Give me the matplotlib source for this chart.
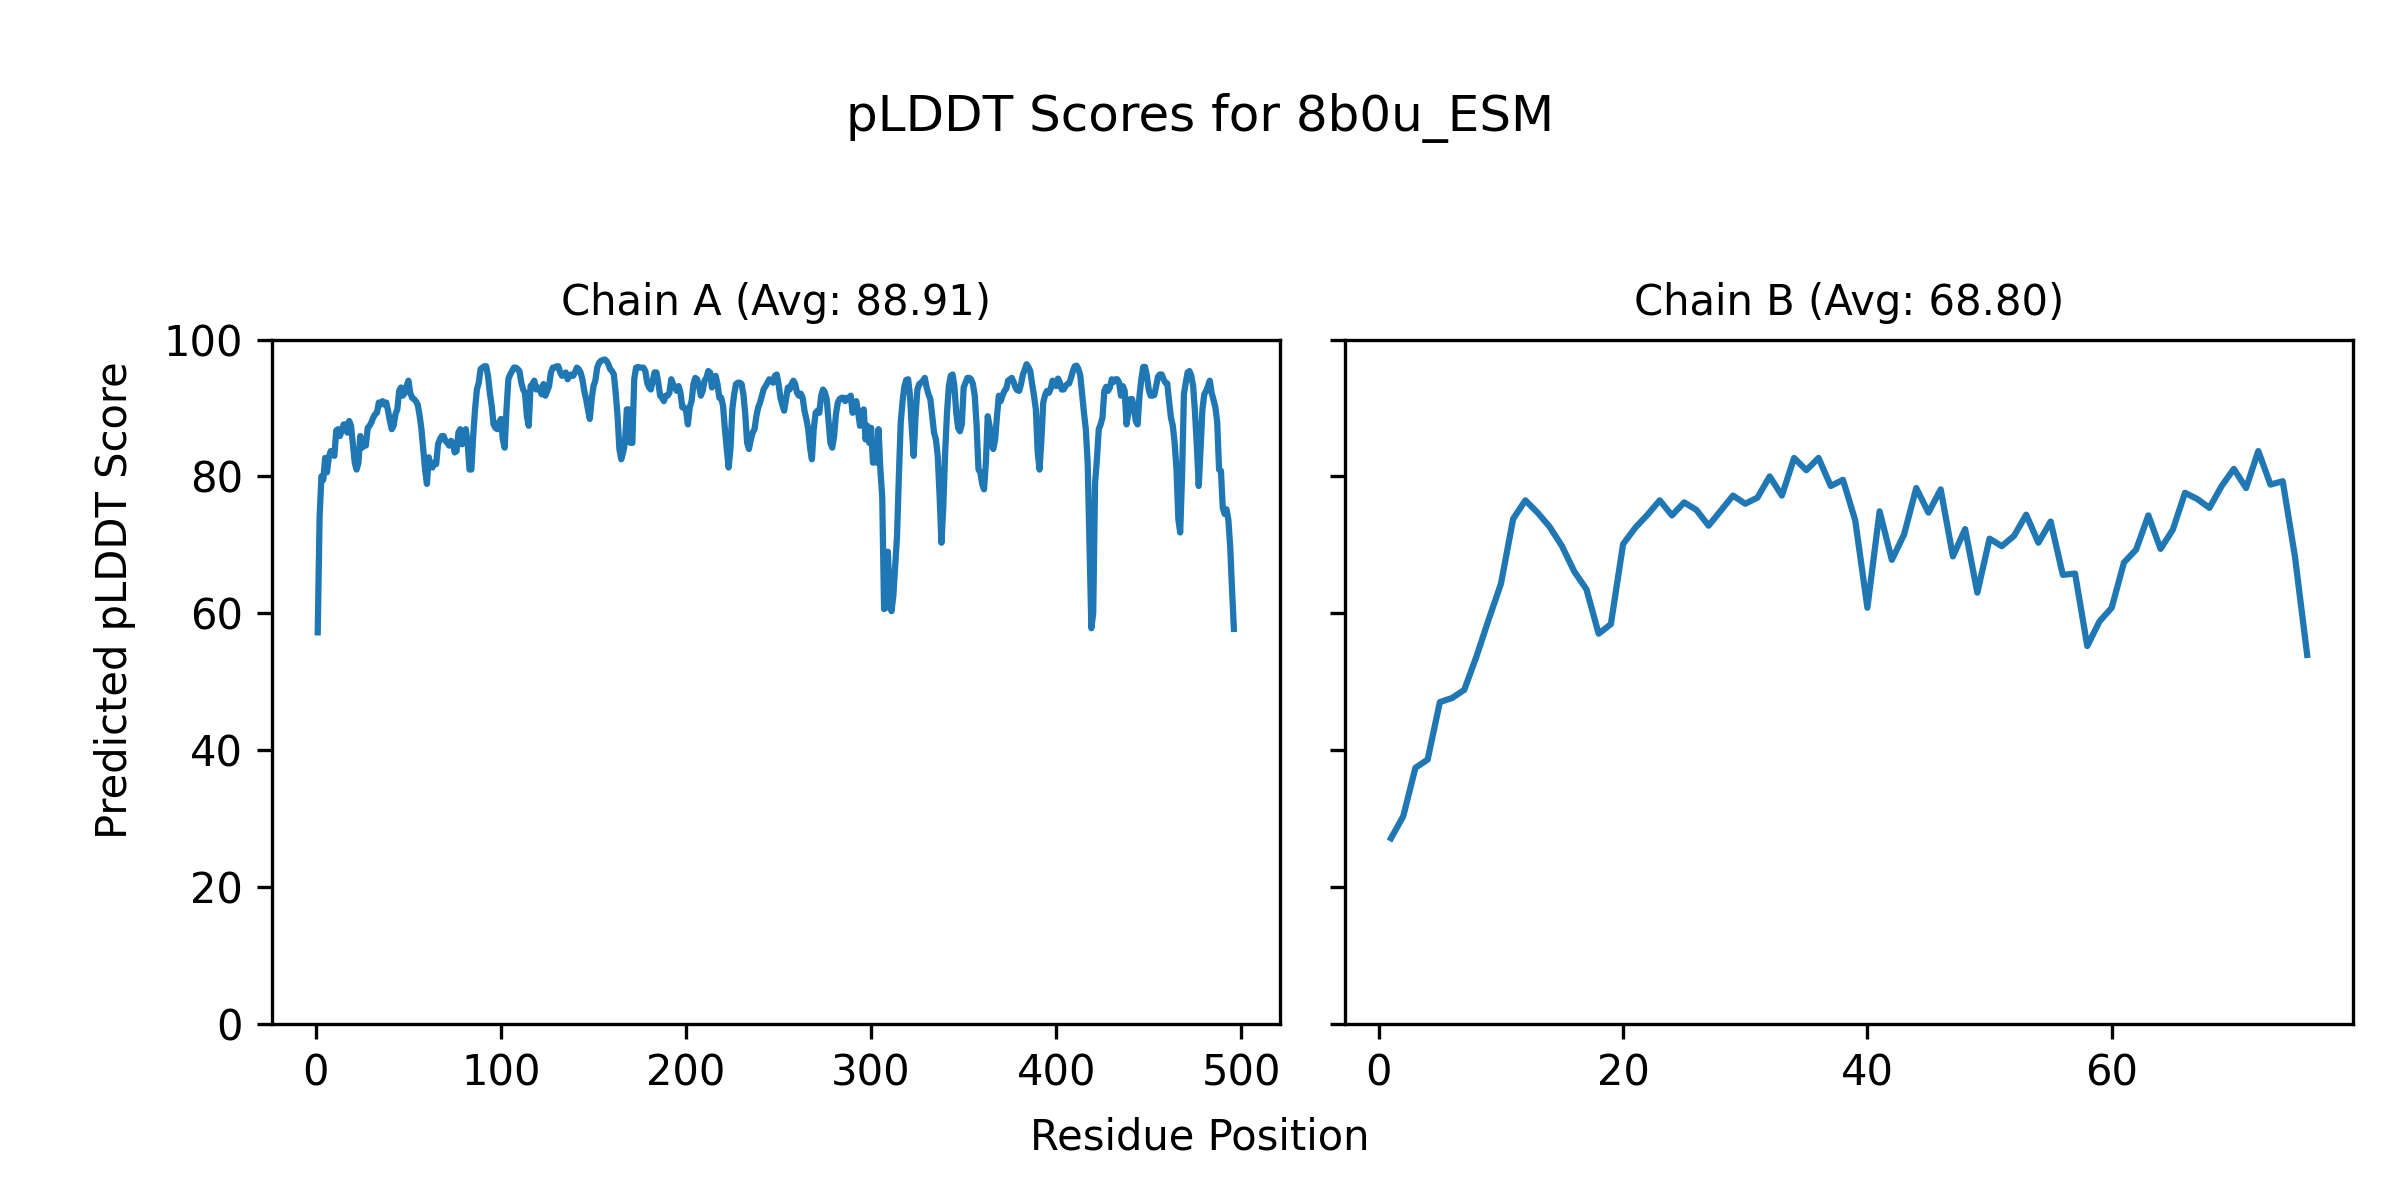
import matplotlib
matplotlib.use("Agg")
import matplotlib.pyplot as plt
import numpy as np

title = "pLDDT Scores for 8b0u_ESM"
chain_titles = ["Chain A (Avg: 88.91)", "Chain B (Avg: 68.80)"]

chain_a_scores = [
    57.2, 74.0, 80.0, 79.5, 82.7, 80.6, 82.8, 83.7, 83.2, 83.0,
    86.7, 86.9, 85.9, 86.7, 87.6, 87.6, 86.4, 88.1, 87.4, 84.7,
    82.0, 81.0, 82.0, 85.9, 84.2, 84.7, 84.5, 87.1, 87.4, 87.9,
    88.6, 89.1, 89.3, 90.8, 90.5, 91.0, 90.5, 90.8, 89.6, 88.1,
    86.9, 87.4, 89.1, 89.8, 92.5, 93.0, 91.8, 92.2, 93.2, 94.0,
    92.2, 91.5, 91.3, 91.0, 90.5, 89.0, 87.0, 84.0, 81.0, 78.9,
    82.8, 81.5, 81.3, 82.0, 81.8, 84.7, 85.4, 85.9, 85.9, 85.2,
    84.9, 84.5, 85.2, 84.9, 83.5, 83.7, 86.4, 86.9, 84.7, 86.6,
    86.9, 84.9, 81.0, 81.0, 85.9, 89.8, 92.7, 93.7, 95.7, 95.9,
    96.1, 96.1, 94.7, 92.2, 90.3, 87.6, 87.1, 86.9, 87.9, 88.4,
    85.4, 84.2, 89.8, 94.2, 94.9, 95.4, 95.9, 95.9, 95.7, 95.4,
    93.7, 92.7, 92.2, 88.8, 87.4, 93.2, 93.5, 94.0, 92.7, 93.0,
    92.7, 92.0, 93.5, 91.8, 92.5, 93.2, 95.2, 95.9, 95.9, 96.1,
    96.1, 95.2, 94.7, 94.9, 95.2, 94.2, 94.7, 94.9, 94.7, 95.2,
    95.9, 95.7, 95.2, 94.2, 92.5, 91.3, 89.8, 88.4, 91.3, 93.2,
    94.0, 95.9, 96.6, 96.9, 97.0, 97.1, 96.9, 96.4, 95.7, 95.4,
    94.9, 92.2, 88.8, 84.0, 82.5, 83.5, 84.9, 89.8, 89.8, 84.9,
    84.9, 94.2, 95.9, 96.0, 95.9, 95.9, 95.9, 95.4, 93.7, 93.0,
    92.7, 94.0, 95.2, 95.2, 93.7, 91.8, 91.5, 91.0, 91.8, 91.8,
    92.2, 94.2, 93.5, 93.0, 92.5, 93.2, 92.2, 90.1, 90.1, 89.6,
    87.6, 90.1, 91.0, 93.5, 94.4, 94.2, 93.2, 91.8, 92.5, 94.0,
    94.4, 95.4, 95.2, 93.0, 94.4, 94.7, 93.5, 91.5, 91.5, 90.3,
    86.9, 84.0, 81.3, 84.0, 89.8, 92.0, 93.5, 93.7, 93.7, 93.5,
    92.0, 89.1, 84.9, 84.0, 85.4, 86.4, 86.9, 88.8, 90.1, 90.8,
    91.8, 92.8, 93.2, 93.7, 94.2, 94.0, 93.7, 94.7, 94.9, 93.5,
    91.5, 90.5, 89.6, 91.3, 93.0, 92.7, 93.5, 94.0, 93.5, 92.2,
    91.8, 92.1, 91.5, 89.6, 88.4, 86.9, 84.2, 82.5, 86.9, 89.3,
    89.6, 89.3, 91.8, 92.7, 92.3, 91.3, 88.1, 84.9, 84.2, 85.9,
    89.1, 90.8, 91.3, 91.5, 91.5, 91.0, 91.5, 91.3, 91.8, 89.3,
    90.5, 91.0, 89.3, 87.4, 89.3, 89.8, 85.4, 87.4, 84.9, 87.1,
    82.0, 84.5, 82.0, 86.9, 81.0, 77.0, 60.6, 60.8, 69.0, 63.0,
    60.3, 62.5, 67.0, 71.3, 80.1, 87.9, 91.0, 93.2, 94.1, 94.2,
    91.8, 86.9, 83.0, 88.8, 92.7, 93.5, 93.7, 94.0, 94.4, 93.0,
    92.0, 91.3, 88.8, 86.4, 85.4, 83.0, 77.1, 70.3, 75.7, 83.5,
    89.3, 93.2, 94.7, 94.9, 93.2, 89.3, 87.1, 86.6, 87.6, 93.0,
    93.7, 94.4, 94.4, 94.2, 93.5, 91.8, 87.4, 81.0, 80.6, 78.9,
    78.1, 82.0, 88.8, 87.4, 84.7, 84.0, 85.4, 88.8, 91.8, 91.0,
    91.8, 92.5, 92.8, 94.0, 94.2, 94.4, 93.8, 93.0, 92.6, 92.5,
    93.5, 94.9, 95.6, 96.4, 96.0, 95.4, 93.5, 91.8, 89.8, 83.5,
    81.0, 85.4, 90.8, 91.9, 92.5, 92.2, 92.8, 94.0, 93.7, 93.2,
    94.3, 93.7, 92.7, 92.7, 93.2, 93.5, 93.6, 94.4, 95.4, 96.1,
    96.2, 95.7, 94.8, 92.0, 89.3, 86.9, 82.0, 70.0, 57.8, 60.0,
    79.0, 82.5, 86.9, 87.6, 88.6, 92.5, 93.1, 92.5, 93.0, 94.2,
    93.8, 94.2, 94.2, 93.7, 91.8, 93.2, 92.5, 87.6, 89.3, 91.3,
    91.3, 90.1, 88.1, 87.6, 91.8, 94.2, 96.0, 96.0, 94.7, 92.7,
    91.8, 91.8, 91.9, 93.2, 94.6, 94.9, 94.9, 94.2, 93.7, 93.6,
    91.0, 88.6, 87.4, 84.9, 81.0, 73.7, 71.8, 80.1, 92.0, 93.7,
    95.2, 95.4, 94.7, 93.2, 89.3, 84.4, 78.6, 84.0, 89.8, 92.0,
    92.5, 93.2, 94.0, 92.2, 91.2, 90.1, 87.9, 81.0, 80.8, 75.4,
    74.5, 75.2, 73.7, 69.8, 63.5, 57.7,
]

chain_b_scores = [
    27.1, 30.3, 37.4, 38.6, 47.0, 47.6, 48.8, 53.7, 59.1, 64.3,
    73.8, 76.5, 74.7, 72.6, 69.8, 66.1, 63.5, 57.0, 58.4, 70.1,
    72.5, 74.4, 76.5, 74.3, 76.2, 75.1, 72.8, 75.0, 77.2, 76.0,
    76.9, 80.0, 77.2, 82.7, 80.9, 82.7, 78.6, 79.5, 73.6, 60.8,
    74.9, 67.8, 71.5, 78.3, 74.7, 78.1, 68.3, 72.3, 63.0, 70.9,
    69.8, 71.3, 74.4, 70.3, 73.4, 65.6, 65.8, 55.2, 58.8, 60.8,
    67.4, 69.3, 74.3, 69.4, 72.2, 77.6, 76.7, 75.4, 78.6, 81.1,
    78.3, 83.7, 78.8, 79.3, 68.3, 53.9,
]

residues_a = np.arange(1, len(chain_a_scores) + 1)
residues_b = np.arange(1, len(chain_b_scores) + 1)

fig, axes = plt.subplots(1, 2, figsize=(8, 4), dpi=300, sharey=True)
fig.subplots_adjust(left=0.1133, right=0.9804, bottom=0.147, top=0.717, wspace=0.065)

axes[0].plot(residues_a, chain_a_scores, color="#1f77b4", linewidth=1.5)
axes[1].plot(residues_b, chain_b_scores, color="#1f77b4", linewidth=1.5)

axes[0].set_title(chain_titles[0], fontsize=10)
axes[1].set_title(chain_titles[1], fontsize=10)
axes[0].set_ylim(0, 100)

fig.suptitle(title, fontsize=12, y=0.902, va="center")
fig.supxlabel("Residue Position", fontsize=10, y=0.0525, va="center")
fig.supylabel("Predicted pLDDT Score", fontsize=10, x=0.048, ha="center", va="center")

fig.savefig("out.png", dpi=300)
